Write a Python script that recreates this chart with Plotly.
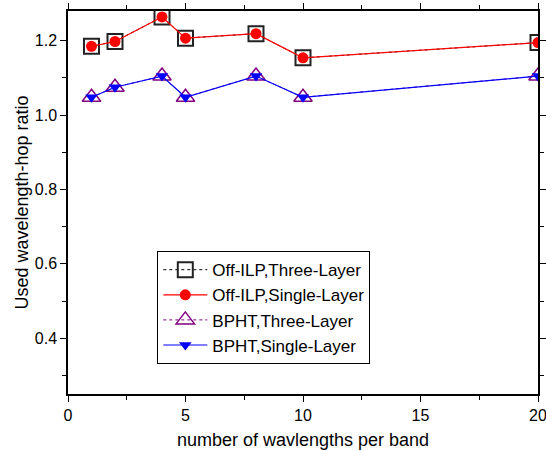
import plotly.graph_objects as go

x_vals = [1, 2, 4, 5, 8, 10, 20]
off_ilp_three = [1.185, 1.198, 1.264, 1.207, 1.219, 1.154, 1.195]
off_ilp_single = [1.185, 1.198, 1.264, 1.207, 1.219, 1.154, 1.195]
bpht_three = [1.048, 1.075, 1.105, 1.048, 1.105, 1.048, 1.105]
bpht_single = [1.048, 1.075, 1.105, 1.048, 1.105, 1.048, 1.105]

FONT = "Liberation Sans, Arial"

fig = go.Figure()
fig.add_trace(go.Scatter(
    x=x_vals, y=off_ilp_three, name="Off-ILP,Three-Layer", mode="lines+markers",
    line=dict(color="black", width=1, dash="dot"),
    marker=dict(symbol="square-open", size=15, color="#222222", line=dict(width=2))))
fig.add_trace(go.Scatter(
    x=x_vals, y=off_ilp_single, name="Off-ILP,Single-Layer", mode="lines+markers",
    line=dict(color="red", width=1.2),
    marker=dict(symbol="circle", size=11, color="red")))
fig.add_trace(go.Scatter(
    x=x_vals, y=bpht_three, name="BPHT,Three-Layer", mode="lines+markers",
    line=dict(color="#800080", width=1, dash="dot"),
    marker=dict(symbol="triangle-up-open", size=16, color="#800080", line=dict(width=1.5))))
fig.add_trace(go.Scatter(
    x=x_vals, y=bpht_single, name="BPHT,Single-Layer", mode="lines+markers",
    line=dict(color="blue", width=1.2),
    marker=dict(symbol="triangle-down", size=11, color="blue")))

axis_common = dict(
    showline=True, linecolor="black", linewidth=1.5, mirror="ticks",
    ticks="outside", ticklen=6, tickwidth=1, tickcolor="black",
    showgrid=False, zeroline=False, automargin=False,
    ticklabeloverflow="allow",
    tickfont=dict(family=FONT, size=16, color="black"),
)

fig.update_xaxes(
    range=[0, 20], tickmode="linear", tick0=0, dtick=5,
    minor=dict(ticks="outside", ticklen=4, dtick=2.5, tickcolor="black"),
    title=dict(text="number of wavlengths per band",
               font=dict(family=FONT, size=18, color="black"),
               standoff=10),
    **axis_common)
fig.update_yaxes(
    range=[0.25, 1.28], tickmode="linear", tick0=0.4, dtick=0.2, tickformat=".1f",
    minor=dict(ticks="outside", ticklen=4, dtick=0.1, tickcolor="black"),
    title=dict(text="Used wavelength-hop ratio",
               font=dict(family=FONT, size=18, color="black"),
               standoff=1),
    **axis_common)

fig.update_layout(
    width=546, height=451,
    margin=dict(l=68, r=8, t=11, b=57, autoexpand=False),
    plot_bgcolor="white", paper_bgcolor="white",
    showlegend=True,
    legend=dict(x=0.19, y=0.373, xanchor="left", yanchor="top",
                bordercolor="black", borderwidth=1, bgcolor="white",
                font=dict(family=FONT, size=17, color="black"),
                itemwidth=44, tracegroupgap=0),
)

fig.write_html("out.html", config={"displayModeBar": False},
               post_script="document.body.style.margin='0';document.body.style.overflow='hidden';")
